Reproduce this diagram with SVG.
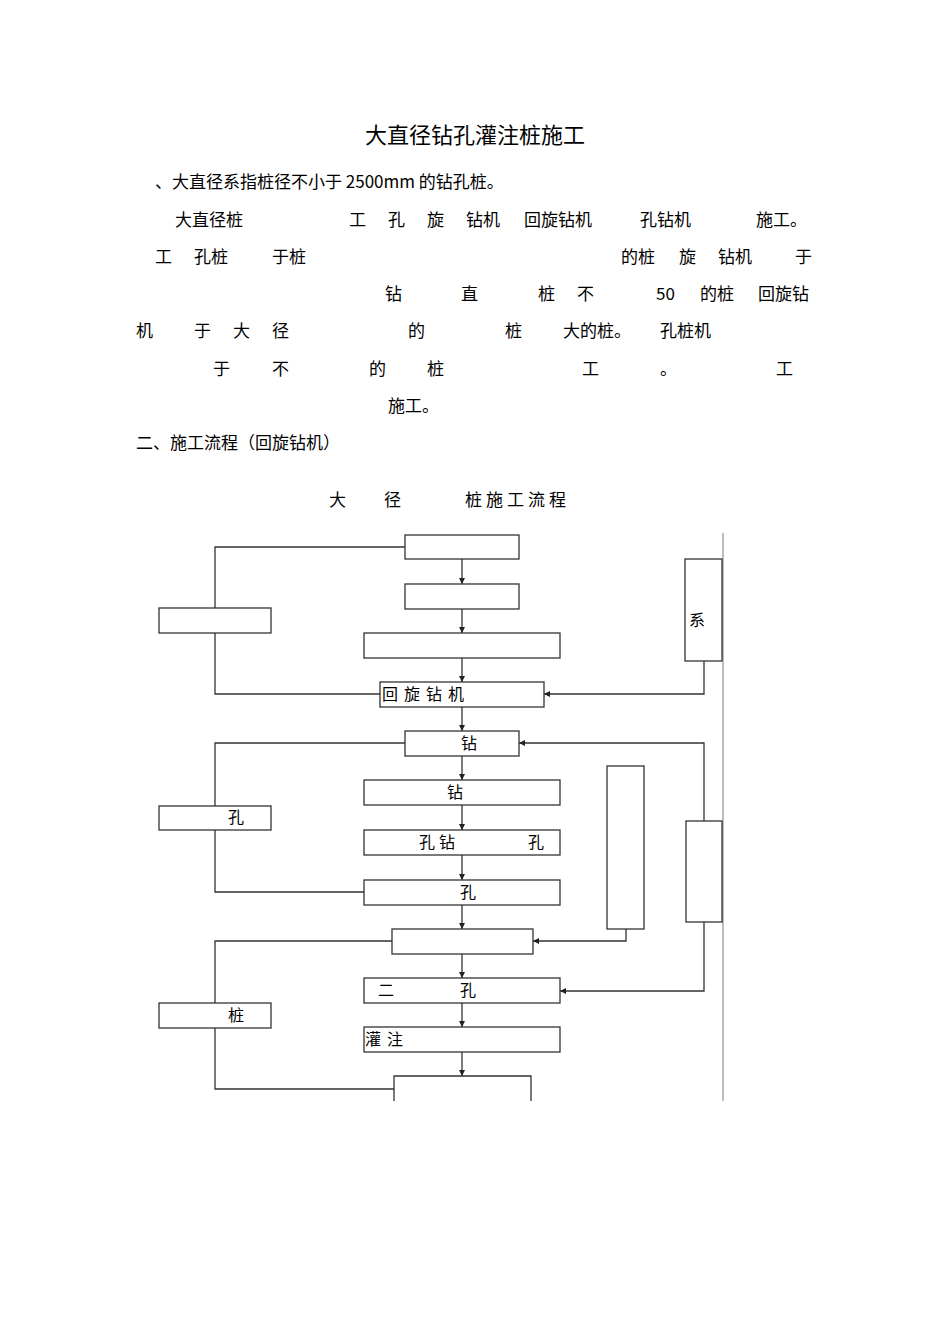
<svg xmlns="http://www.w3.org/2000/svg" width="950" height="1344" viewBox="0 0 950 1344">
<defs>
<marker id="a" markerWidth="6" markerHeight="8" refX="6" refY="4" orient="auto" markerUnits="userSpaceOnUse"><path d="M0,1 L6,4 L0,7 Z" fill="#222"/></marker>
</defs>
<style>
text{font-family:"Noto Sans CJK SC","Liberation Sans",sans-serif;fill:#000}
.b{font-size:17px}
.n{fill:#fff;stroke:#333;stroke-width:1.3}
.c{fill:none;stroke:#333;stroke-width:1.3}
.f{font-size:16px}
</style>
<rect width="950" height="1344" fill="#fff"/>
<text x="475" y="143" font-size="22" text-anchor="middle">大直径钻孔灌注桩施工</text>
<g class="b">
<text x="155" y="188">、大直径系指桩径不小于 2500mm 的钻孔桩。</text>
<text x="175" y="226">大直径桩</text><text x="349" y="226">工</text><text x="388" y="226">孔</text><text x="427" y="226">旋</text><text x="466" y="226">钻机</text><text x="524" y="226">回旋钻机</text><text x="640" y="226">孔钻机</text><text x="756" y="226">施工。</text>
<text x="155" y="263">工</text><text x="194" y="263">孔桩</text><text x="272" y="263">于桩</text><text x="621" y="263">的桩</text><text x="679" y="263">旋</text><text x="718" y="263">钻机</text><text x="795" y="263">于</text>
<text x="385" y="300">钻</text><text x="461" y="300">直</text><text x="538" y="300">桩</text><text x="577" y="300">不</text><text x="656" y="300">50</text><text x="700" y="300">的桩</text><text x="758" y="300">回旋钻</text>
<text x="136" y="337">机</text><text x="194" y="337">于</text><text x="233" y="337">大</text><text x="272" y="337">径</text><text x="408" y="337">的</text><text x="505" y="337">桩</text><text x="563" y="337">大的桩。</text><text x="660" y="337">孔桩机</text>
<text x="213" y="375">于</text><text x="272" y="375">不</text><text x="369" y="375">的</text><text x="427" y="375">桩</text><text x="582" y="375">工</text><text x="660" y="375">。</text><text x="776" y="375">工</text>
<text x="388" y="412">施工。</text>
<text x="136" y="449">二、施工流程（回旋钻机）</text>
<text x="329" y="506">大</text><text x="384" y="506">径</text><text x="465" y="506" letter-spacing="4">桩施工流程</text>
</g>
<g id="connectors">
<line x1="723" y1="533" x2="723" y2="1101" stroke="#999" stroke-width="1.3"/>
<line class="c" x1="462" y1="559" x2="462" y2="584" marker-end="url(#a)"/>
<line class="c" x1="462" y1="609" x2="462" y2="633" marker-end="url(#a)"/>
<line class="c" x1="462" y1="658" x2="462" y2="682" marker-end="url(#a)"/>
<line class="c" x1="462" y1="707" x2="462" y2="731" marker-end="url(#a)"/>
<line class="c" x1="462" y1="756" x2="462" y2="780" marker-end="url(#a)"/>
<line class="c" x1="462" y1="805" x2="462" y2="830" marker-end="url(#a)"/>
<line class="c" x1="462" y1="855" x2="462" y2="880" marker-end="url(#a)"/>
<line class="c" x1="462" y1="905" x2="462" y2="929" marker-end="url(#a)"/>
<line class="c" x1="462" y1="954" x2="462" y2="978" marker-end="url(#a)"/>
<line class="c" x1="462" y1="1003" x2="462" y2="1027" marker-end="url(#a)"/>
<line class="c" x1="462" y1="1052" x2="462" y2="1076" marker-end="url(#a)"/>
<polyline class="c" points="405,547 215,547 215,694 380,694"/>
<polyline class="c" points="405,743 215,743 215,892 364,892"/>
<polyline class="c" points="392,941 215,941 215,1089 394,1089"/>
<polyline class="c" points="704,661 704,694 544,694" marker-end="url(#a)"/>
<polyline class="c" points="704,821 704,743 519,743" marker-end="url(#a)"/>
<polyline class="c" points="704,922 704,991 560,991" marker-end="url(#a)"/>
<polyline class="c" points="626,929 626,941 533,941" marker-end="url(#a)"/>
</g>
<g id="nA"><rect class="n" x="405" y="535" width="114" height="24"/></g>
<g id="nB"><rect class="n" x="405" y="584" width="114" height="25"/></g>
<g id="nC"><rect class="n" x="364" y="633" width="196" height="25"/></g>
<g id="nD"><rect class="n" x="380" y="682" width="164" height="25"/><text class="f" x="382" y="700" letter-spacing="6">回旋钻机</text></g>
<g id="nE"><rect class="n" x="405" y="731" width="114" height="25"/><text class="f" x="461" y="749">钻</text></g>
<g id="nF"><rect class="n" x="364" y="780" width="196" height="25"/><text class="f" x="447" y="798">钻</text></g>
<g id="nG"><rect class="n" x="364" y="830" width="196" height="25"/><text class="f" x="419" y="848" letter-spacing="4">孔钻</text><text class="f" x="528" y="848">孔</text></g>
<g id="nH"><rect class="n" x="364" y="880" width="196" height="25"/><text class="f" x="460" y="898">孔</text></g>
<g id="nI"><rect class="n" x="392" y="929" width="141" height="25"/></g>
<g id="nJ"><rect class="n" x="364" y="978" width="196" height="25"/><text class="f" x="378" y="996">二</text><text class="f" x="460" y="996">孔</text></g>
<g id="nK"><rect class="n" x="364" y="1027" width="196" height="25"/><text class="f" x="365" y="1045" letter-spacing="6">灌注</text></g>
<g id="nL"><polyline class="c" points="394,1101 394,1076 531,1076 531,1101"/></g>
<g id="nL1"><rect class="n" x="159" y="608" width="112" height="25"/></g>
<g id="nL2"><rect class="n" x="159" y="806" width="112" height="24"/><text class="f" x="228" y="823">孔</text></g>
<g id="nL3"><rect class="n" x="159" y="1003" width="112" height="25"/><text class="f" x="228" y="1021">桩</text></g>
<g id="nR1"><rect class="n" x="685" y="559" width="37" height="102"/><text class="f" x="689" y="626">系</text></g>
<g id="nR2"><rect class="n" x="686" y="821" width="36" height="101"/></g>
<g id="nR3"><rect class="n" x="607" y="766" width="37" height="163"/></g>
</svg>
